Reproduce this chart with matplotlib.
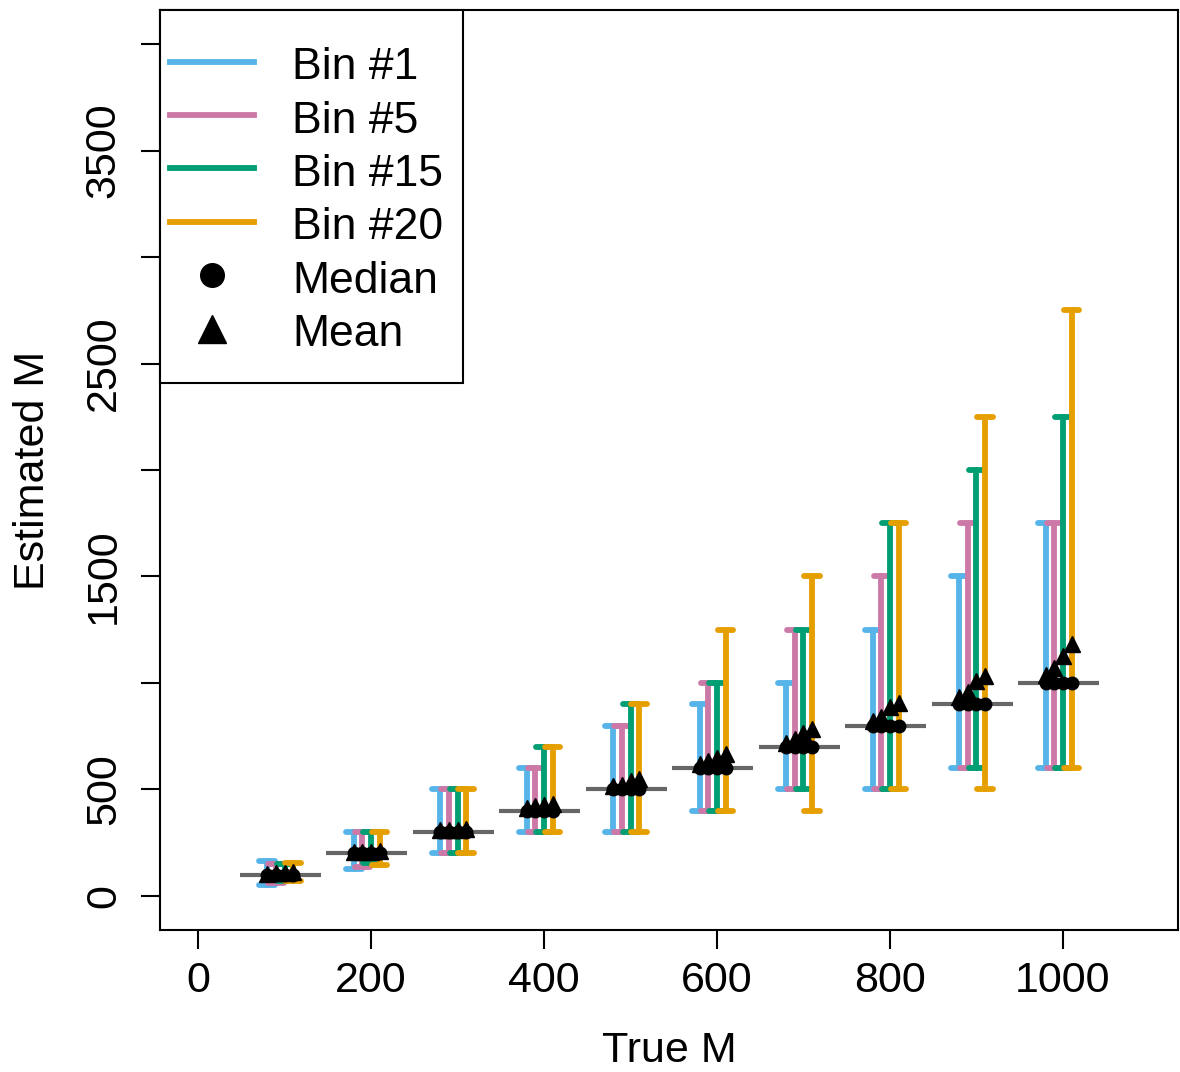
import numpy as np
import matplotlib
matplotlib.use("Agg")
from matplotlib import pyplot as plt
from matplotlib.lines import Line2D
from matplotlib.patches import Rectangle

plt.rcParams['font.family'] = ['Liberation Sans', 'DejaVu Sans']

true_m = [100, 200, 300, 400, 500, 600, 700, 800, 900, 1000]

bin_names = ["Bin #1", "Bin #5", "Bin #15", "Bin #20"]
bin_colors = ["#56B4E9", "#CC79A7", "#009E73", "#E69F00"]
bin_offsets = [-20, -10, 0, 10]

bin1_lo = [50, 125, 200, 300, 300, 400, 500, 500, 600, 600]
bin1_hi = [165, 300, 500, 600, 800, 900, 1000, 1250, 1500, 1750]
bin5_lo = [60, 135, 200, 300, 300, 400, 500, 500, 600, 600]
bin5_hi = [150, 300, 500, 600, 800, 1000, 1250, 1500, 1750, 1750]
bin15_lo = [70, 155, 200, 300, 300, 400, 500, 500, 600, 600]
bin15_hi = [150, 300, 500, 700, 900, 1000, 1250, 1750, 2000, 2250]
bin20_lo = [72, 145, 200, 300, 300, 400, 400, 500, 500, 600]
bin20_hi = [155, 300, 500, 700, 900, 1250, 1500, 1750, 2250, 2750]

bin1_med = [100, 200, 300, 400, 500, 600, 700, 800, 900, 1000]
bin5_med = [100, 200, 300, 400, 500, 600, 700, 800, 900, 1000]
bin15_med = [100, 200, 300, 400, 500, 600, 700, 800, 900, 1000]
bin20_med = [100, 200, 300, 400, 500, 600, 700, 800, 900, 1000]

bin1_mean = [105, 205, 308, 415, 515, 620, 720, 822, 932, 1038]
bin5_mean = [106, 207, 310, 420, 522, 632, 737, 840, 957, 1068]
bin15_mean = [108, 208, 310, 425, 538, 650, 765, 886, 1010, 1125]
bin20_mean = [110, 210, 312, 430, 550, 665, 786, 905, 1035, 1185]

lows = [bin1_lo, bin5_lo, bin15_lo, bin20_lo]
highs = [bin1_hi, bin5_hi, bin15_hi, bin20_hi]
meds = [bin1_med, bin5_med, bin15_med, bin20_med]
means = [bin1_mean, bin5_mean, bin15_mean, bin20_mean]

W, H = 1180, 1072
fig = plt.figure(figsize=(W / 100, H / 100), dpi=100)
ax = fig.add_axes([160/W, 1-930/H, 1018/W, 920/H])

x = np.array(true_m, dtype=float)

# true value reference segments
ax.hlines(x, x - 52, x + 42, color="#666666", lw=3.0, zorder=1)

cap = 9
lw = 4.2
for k in range(4):
    xs = x + bin_offsets[k]
    lo = np.array(lows[k])
    hi = np.array(highs[k])
    ax.vlines(xs, lo, hi, color=bin_colors[k], lw=lw, capstyle='round', zorder=2 + k)
    ax.hlines(lo, xs - cap, xs + cap, color=bin_colors[k], lw=lw, capstyle='round', zorder=2 + k)
    ax.hlines(hi, xs - cap, xs + cap, color=bin_colors[k], lw=lw, capstyle='round', zorder=2 + k)

for k in range(4):
    xs = x + bin_offsets[k]
    ax.plot(xs, means[k], linestyle='none', marker='^', color='black', ms=11, zorder=10)
    ax.plot(xs, meds[k], linestyle='none', marker='o', color='black', ms=9, zorder=11)

ax.set_xlim(-44, 1133)
ax.set_ylim(-160, 4160)

ax.set_xticks([0, 200, 400, 600, 800, 1000])
ax.set_xticklabels(["0", "200", "400", "600", "800", "1000"])
yt = [0, 500, 1000, 1500, 2000, 2500, 3000, 3500, 4000]
ax.set_yticks(yt)
ax.set_yticklabels(["0", "500", "", "1500", "", "2500", "", "3500", ""],
                   rotation=90, va='center')
ax.tick_params(axis='both', labelsize=31, length=14, width=1.5)
ax.tick_params(axis='x', pad=8)
ax.tick_params(axis='y', pad=12)
for s in ax.spines.values():
    s.set_linewidth(1.5)

ax.set_xlabel("True M", fontsize=31, labelpad=22)
ax.set_ylabel("Estimated M", fontsize=31, labelpad=22)

# legend
handles = [Line2D([], [], color=c, lw=lw) for c in bin_colors]
handles.append(Line2D([], [], linestyle='none', marker='o', color='black', ms=17))
handles.append(Line2D([], [], linestyle='none', marker='^', color='black', ms=20))
labels = bin_names + ["Median", "Mean"]
leg = ax.legend(handles, labels, loc='upper left',
                bbox_to_anchor=(170 / W, 1 - 44 / H), bbox_transform=fig.transFigure,
                borderaxespad=0, borderpad=0, fontsize=32, frameon=False,
                handlelength=1.9, handleheight=1.0, handletextpad=0.85,
                labelspacing=0.21)
ax.add_patch(Rectangle((160 / W, 1 - 383 / H), 303 / W, 373 / H,
                       transform=fig.transFigure, facecolor='white',
                       edgecolor='black', lw=1.5, zorder=20, clip_on=False))
leg.set_zorder(21)

fig.savefig("out.png", dpi=100)
